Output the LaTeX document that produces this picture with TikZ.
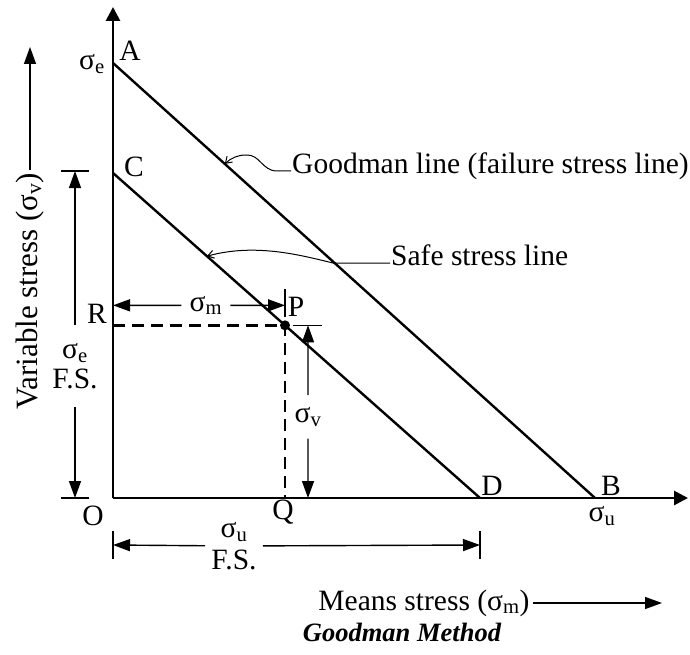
\documentclass[tikz,border=0pt]{standalone}
\usepackage{fontspec}
\setmainfont{Liberation Serif}
\usetikzlibrary{arrows.meta,positioning,calc}
\newcommand{\sg}[1]{σ\textsubscript{#1}}

\begin{document}
\begin{tikzpicture}[x=1pt, y=-1pt,
  lbl/.style={inner sep=1pt, font=\fontsize{29.5}{31}\selectfont},
  axis/.style={line width=2.8pt, -{Triangle[length=14pt,width=14pt]}},
  lim/.style={line width=2.4pt},
  proj/.style={line width=2.4pt, dash pattern=on 12pt off 7pt},
  dimarr/.style={line width=1.4pt, -{Triangle[length=17pt,width=12pt]}},
  tick/.style={line width=1.4pt},
  lead/.style={line width=1pt, -{Straight Barb[length=6pt,width=8pt]}}
]
  \useasboundingbox (0,0) rectangle (690,655);

  % axes and the two stress lines
  \coordinate (O) at (113,498);
  \coordinate (ytop) at (113,7);
  \coordinate (xend) at (688,498);
  \coordinate (A) at (113,63);
  \coordinate (B) at (595,498);
  \coordinate (C) at (113,173);
  \coordinate (D) at (480,498);
  \coordinate (P) at ($(C)!0.4687!(D)$);
  \coordinate (R) at (C |- P);
  \coordinate (Q) at (P |- O);

  \draw[axis] (O) -- (ytop);
  \draw[axis] (O) -- (xend);
  \draw[lim] (A) -- (B);
  \draw[lim] (C) -- (D);
  \draw[proj] (R) -- (P) -- (Q);
  \fill (P) circle (5pt);

  \node[lbl] (labA) at (130,51) {A};
  \node[lbl] (labB) at (611,486) {B};
  \node[lbl] (labC) at (134,167) {C};
  \node[lbl] (labD) at (492,486) {D};
  \node[lbl] (labP) at (296,307) {P};
  \node[lbl] (labQ) at (283,512) {Q};
  \node[lbl] (labR) at (97,314) {R};
  \node[lbl] (labO) at (93,516) {O};
  \node[lbl] (se) at (92,64) {\sg{e}};
  \node[lbl] (su) at (602,516) {\sg{u}};

  % sigma_m between R and P
  \coordinate (sm1) at ($(R)+(0,-20)$);
  \coordinate (sm2) at ($(P)+(0,-20)$);
  \node[lbl, inner xsep=8pt] (sm) at ($(sm1)!0.54!(sm2)$) {\sg{m}};
  \draw[dimarr] (sm) -- (sm1);
  \draw[dimarr] (sm) -- (sm2);
  \draw[tick] ($(P)+(0,-36)$) -- ($(P)+(0,-8)$);

  % sigma_v between P and Q
  \coordinate (sv1) at ($(P)+(23,0)$);
  \coordinate (sv2) at ($(Q)+(23,0)$);
  \node[lbl, inner ysep=12pt] (sv) at ($(sv1)!0.53!(sv2)$) {\sg{v}};
  \draw[dimarr] (sv) -- (sv1);
  \draw[dimarr] (sv) -- (sv2);
  \draw[tick] ($(P)+(8,0)$) -- ($(P)+(37,0)$);

  % left dimension
  \coordinate (le1) at (75,171);
  \coordinate (le2) at (75,498);
  \node[lbl, align=center, inner ysep=18pt, font=\fontsize{29.5}{30}\selectfont] (seFS) at (75,366) {\sg{e}\\F.S.};
  \draw[dimarr] (seFS) -- (le1);
  \draw[dimarr] (seFS) -- (le2);
  \draw[tick] ($(le1)+(-14,0)$) -- ($(le1)+(14,0)$);
  \draw[tick] ($(le2)+(-14,0)$) -- ($(le2)+(14,0)$);

  % bottom dimension
  \coordinate (bo1) at ($(O)+(0,47)$);
  \coordinate (bo2) at ($(D)+(0,47)$);
  \node[lbl, align=center, inner xsep=6pt, font=\fontsize{29.5}{32}\selectfont] (suFS) at (234,546) {\sg{u}\\F.S.};
  \draw[dimarr] (suFS) -- (bo1);
  \draw[dimarr] (suFS) -- (bo2);
  \draw[tick] ($(bo1)+(0,-14)$) -- ($(bo1)+(0,14)$);
  \draw[tick] ($(bo2)+(0,-14)$) -- ($(bo2)+(0,14)$);

  % leaders
  \coordinate (gtip) at ($(A)!0.232!(B)$);
  \coordinate (stip) at ($(C)!0.256!(D)$);
  \node[lbl, anchor=mid west] (gtxt) at (291,171) {Goodman line (failure stress line)};
  \node[lbl, anchor=mid west] (stxt) at (390,263) {Safe stress line};
  \draw[lead] (gtxt.mid west) -- (277,171) .. controls (262,171) and (260,154) .. (246,155) .. controls (238,155) and (231,158) .. (gtip);
  \draw[lead] (stxt.mid west) -- (333,263) .. controls (300,255) and (255,243) .. (stip);

  % axis titles
  \coordinate (ytip) at (30,47);
  \coordinate (xtip) at (662,603);
  \node[lbl, rotate=90, inner sep=3pt, font=\fontsize{31}{33}\selectfont] (ylab) at (30,291) {Variable stress (\sg{v})};
  \node[lbl, inner sep=3pt] (xlab) at (424,603) {Means stress (\sg{m})};
  \draw[dimarr] (ylab) -- (ytip);
  \draw[dimarr] (xlab) -- (xtip);

  \node[font=\fontsize{26.5}{30}\selectfont\bfseries\itshape] (cap) at (402,632) {Goodman Method};
\end{tikzpicture}
\end{document}
